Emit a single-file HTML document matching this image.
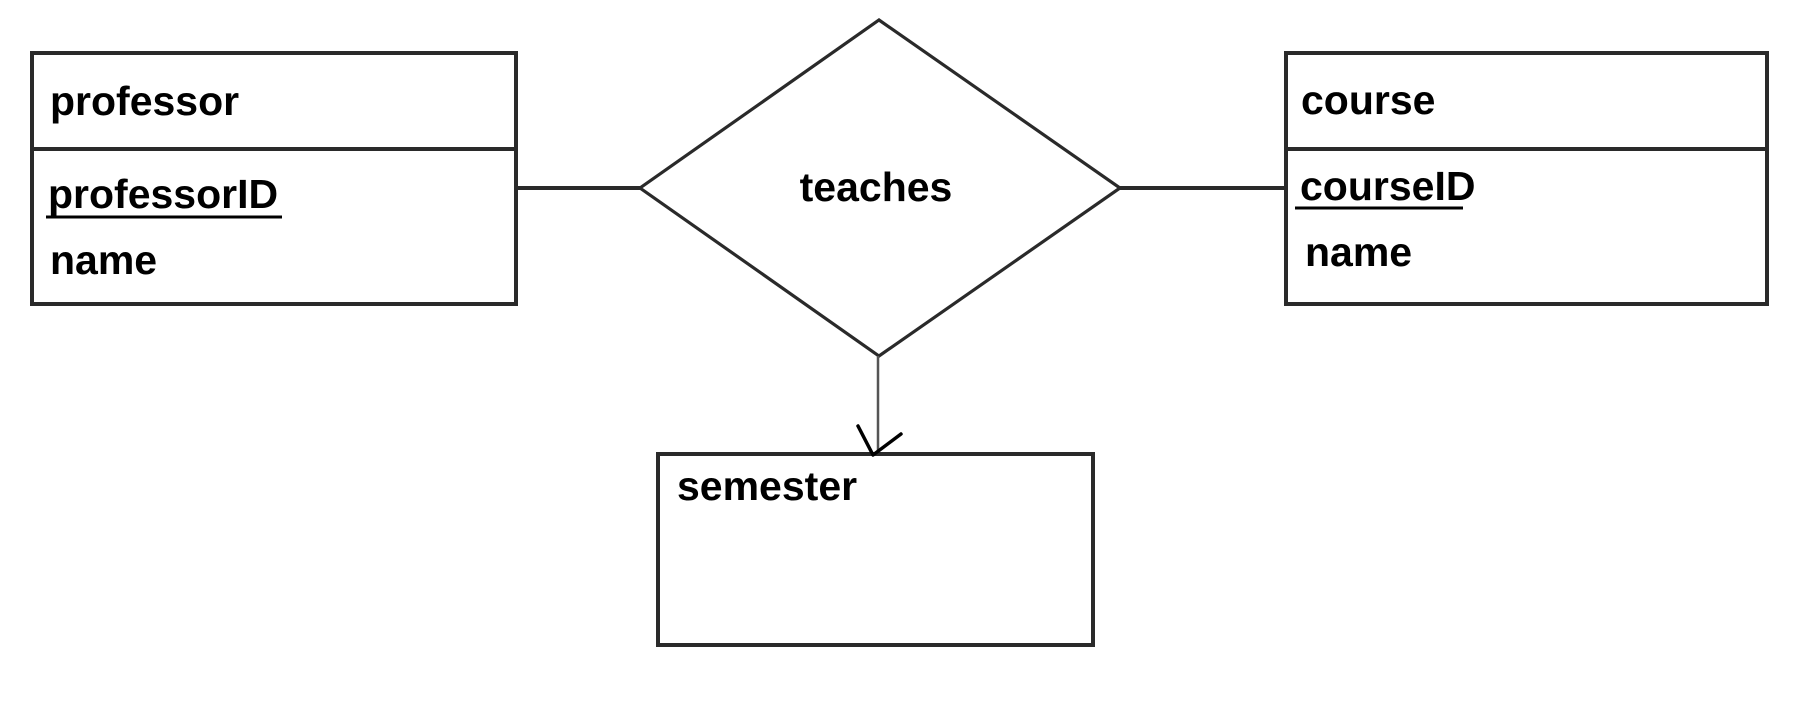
<!DOCTYPE html>
<html><head><style>
html,body{margin:0;padding:0;background:#fff;}
svg{display:block;}
text{font-family:"Liberation Sans",sans-serif;font-weight:bold;font-size:41px;fill:#000;}
</style></head><body>
<svg width="1815" height="725" viewBox="0 0 1815 725" xmlns="http://www.w3.org/2000/svg">
<g fill="none" stroke="#2a2a2a" stroke-width="4">
<rect x="32" y="53" width="484" height="251"/>
<line x1="32" y1="149" x2="516" y2="149"/>
<rect x="1286" y="53" width="481" height="251"/>
<line x1="1286" y1="149" x2="1767" y2="149"/>
<rect x="658" y="454" width="435" height="191"/>
<polygon points="879,20 1120,188 879,356 640,188" stroke-width="3.2"/>
<line x1="516" y1="188" x2="640" y2="188"/>
<line x1="1120" y1="188" x2="1286" y2="188"/>
</g>
<line x1="878" y1="356" x2="878" y2="452" stroke="#555" stroke-width="2.5"/>
<polyline points="858,426 873,455 901,434" fill="none" stroke="#000" stroke-width="3.5" stroke-linecap="round" stroke-linejoin="round"/>
<text x="50" y="115">professor</text>
<text x="48" y="208">professorID</text>
<line x1="46" y1="217" x2="282" y2="217" stroke="#000" stroke-width="3"/>
<text x="50" y="274">name</text>
<text x="1301" y="114">course</text>
<text x="1300" y="200">courseID</text>
<line x1="1295" y1="208" x2="1463" y2="208" stroke="#000" stroke-width="3"/>
<text x="1305" y="266">name</text>
<text x="876" y="201" text-anchor="middle">teaches</text>
<text x="677" y="500">semester</text>
</svg>
</body></html>
